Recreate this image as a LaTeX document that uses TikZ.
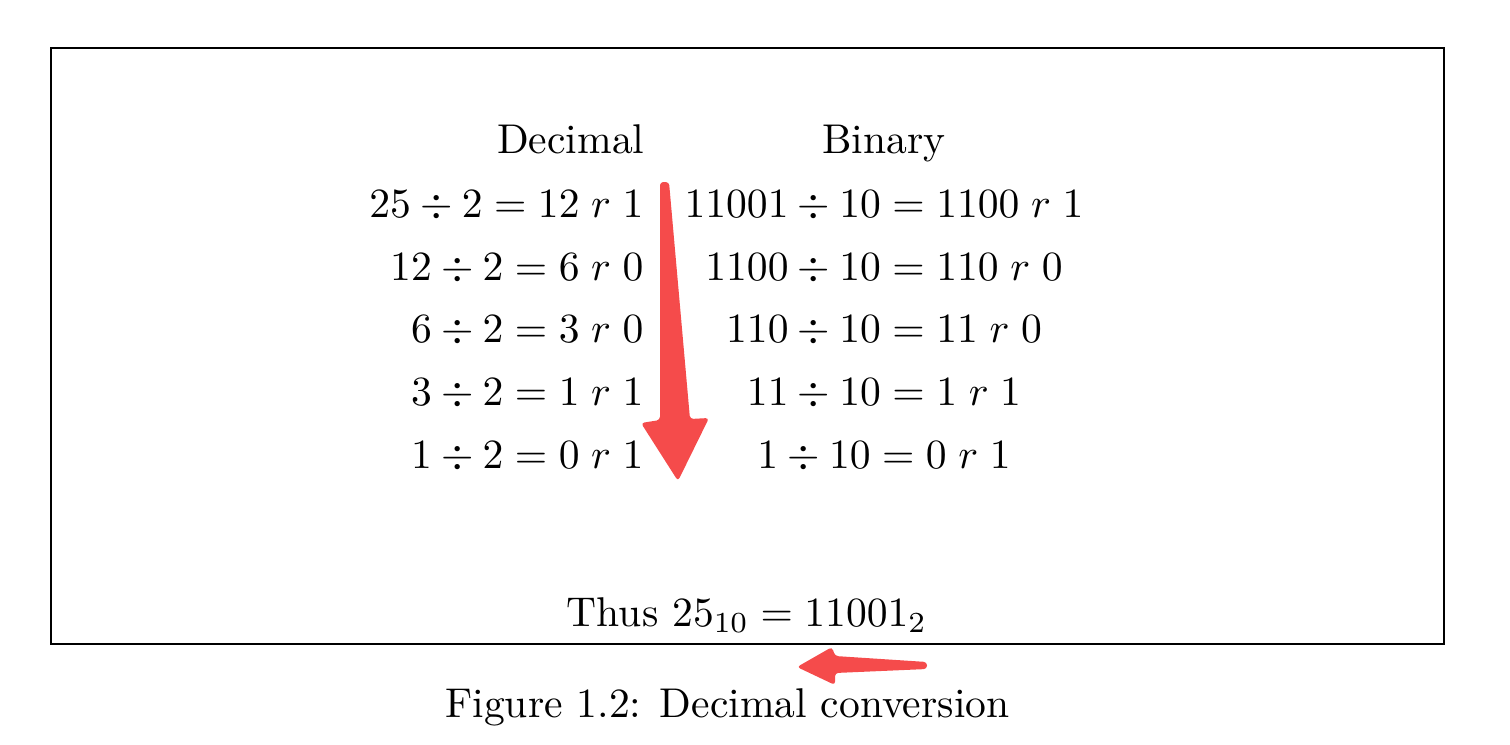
\documentclass[tikz,border=0pt]{standalone}
\usepackage{amsmath}

\definecolor{markred}{RGB}{245,75,75}
\tikzset{every picture/.style={line width=0.75pt}}
\tikzset{
  declabel/.style={anchor=base east,inner sep=0pt},
  binlabel/.style={anchor=base,inner sep=0pt},
  markarrow/.style={fill=markred,draw=none,rounded corners=0.8pt}
}

\begin{document}
\begin{tikzpicture}[x=0.2405pt,y=0.2405pt,yscale=-1,xscale=1]
	\useasboundingbox (0,0) rectangle (1510,744);

	%Shape: Rectangle [id:frame]
	\draw [line width=0.5pt] (51,48) rectangle (1444,644) ;

	% Text Node
	\node [declabel] (dechead) at (646,153) {Decimal};
	% Text Node
	\node [binlabel] (binhead) at (884,153) {Binary};

	% Text Node
	\node [declabel] (dec1) at (645,217) {$25 \div 2 = 12\; r\; 1$};
	% Text Node
	\node [declabel] (dec2) at (645,280) {$12 \div 2 = 6\; r\; 0$};
	% Text Node
	\node [declabel] (dec3) at (645,342) {$6 \div 2 = 3\; r\; 0$};
	% Text Node
	\node [declabel] (dec4) at (645,405) {$3 \div 2 = 1\; r\; 1$};
	% Text Node
	\node [declabel] (dec5) at (645,468) {$1 \div 2 = 0\; r\; 1$};

	% Text Node
	\node [binlabel] (bin1) at (884,217) {$11001 \div 10 = 1100\; r\; 1$};
	% Text Node
	\node [binlabel] (bin2) at (884,280) {$1100 \div 10 = 110\; r\; 0$};
	% Text Node
	\node [binlabel] (bin3) at (884,342) {$110 \div 10 = 11\; r\; 0$};
	% Text Node
	\node [binlabel] (bin4) at (884,405) {$11 \div 10 = 1\; r\; 1$};
	% Text Node
	\node [binlabel] (bin5) at (884,468) {$1 \div 10 = 0\; r\; 1$};

	% Text Node
	\node [binlabel] (result) at (747,626) {Thus $25_{10} = 11001_2$};
	% Text Node
	\node [binlabel] (caption) at (727.5,717) {Figure 1.2: Decimal conversion};

	%Shape: Arrow [id:downmark]
	\fill [markarrow] (660,182) -- (669,182) -- (690,419) -- (709,418) -- (678,481) -- (641,423) -- (660,420) -- cycle ;
	%Shape: Arrow [id:leftmark]
	\fill [markarrow] (927,662) -- (927,669) -- (835,673) -- (835,685) -- (797,667) -- (832,647) -- (835,656) -- cycle ;

\end{tikzpicture}
\end{document}
